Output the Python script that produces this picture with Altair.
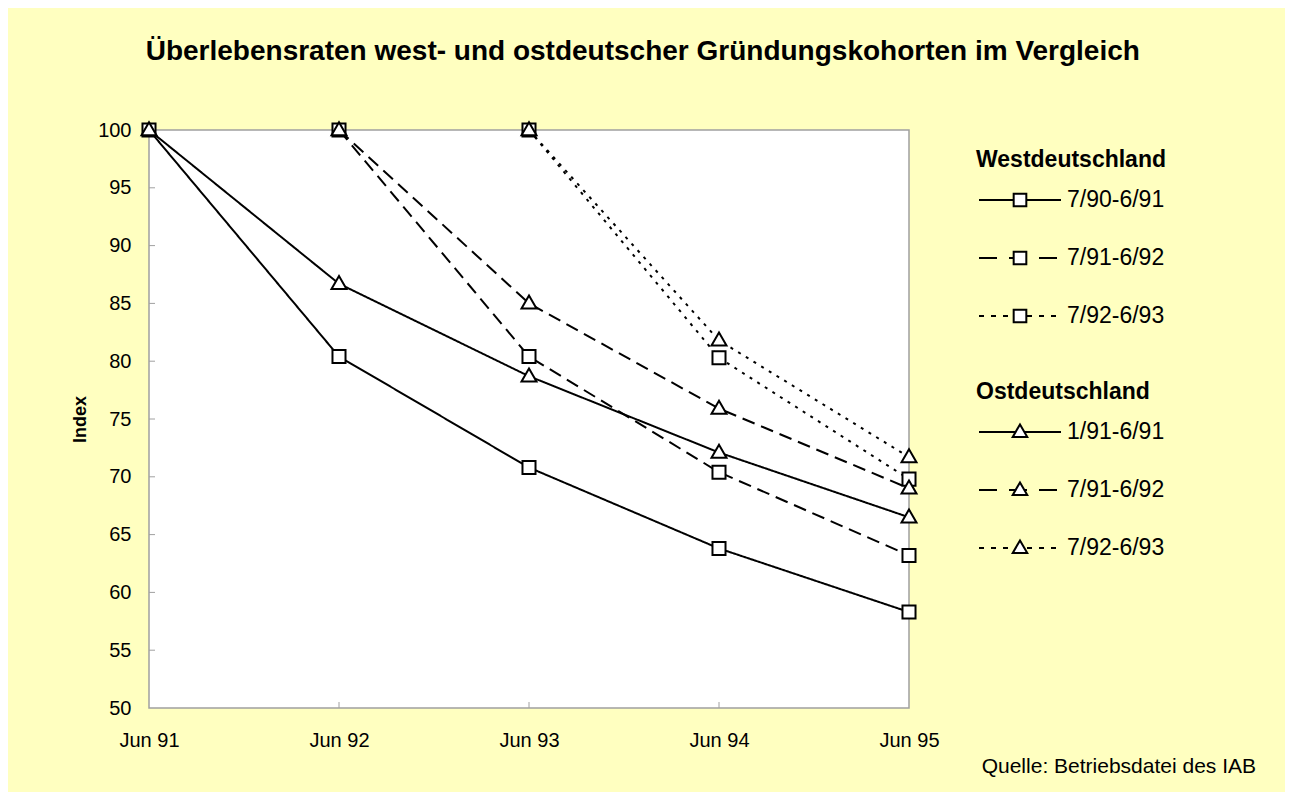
import altair as alt
import pandas as pd

# ---------------- data ----------------
periods = ["Jun 91", "Jun 92", "Jun 93", "Jun 94", "Jun 95"]
y_ticks = [50, 55, 60, 65, 70, 75, 80, 85, 90, 95, 100]
styles = ["solid", "dashed", "dotted"]

west_labels = ["7/90-6/91", "7/91-6/92", "7/92-6/93"]
west_values = [
    [100, 80.4, 70.8, 63.8, 58.3],
    [None, 100, 80.4, 70.4, 63.2],
    [None, None, 100, 80.3, 69.8],
]
east_labels = ["1/91-6/91", "7/91-6/92", "7/92-6/93"]
east_values = [
    [100, 86.7, 78.7, 72.1, 66.5],
    [None, 100, 85.0, 75.9, 69.0],
    [None, None, 100, 81.8, 71.7],
]
group_titles = ["Westdeutschland", "Ostdeutschland"]
title_text = "Überlebensraten west- und ostdeutscher Gründungskohorten im Vergleich"
source_text = "Quelle: Betriebsdatei des IAB"

# ---------------- tables ----------------
rows = []
for region, labels, values in [("West", west_labels, west_values), ("Ost", east_labels, east_values)]:
    for lab, sty, vals in zip(labels, styles, values):
        for p, v in zip(periods, vals):
            if v is not None:
                rows.append({"series": region + " " + lab, "region": region,
                             "style": sty, "period": p, "value": v})
df = pd.DataFrame(rows)

ytick_df = pd.DataFrame({"value": y_ticks[1:-1]})
xtick_df = pd.DataFrame({"period": periods[1:-1]})

leg_rows = []
leg_heads = []
r = 0
for region, head, labels in [("West", group_titles[0], west_labels), ("Ost", group_titles[1], east_labels)]:
    leg_heads.append({"row": r, "text": head})
    r += 1
    for lab, sty in zip(labels, styles):
        leg_rows.append({"row": r, "label": lab, "style": sty, "region": region})
        r += 1
leg_df = pd.DataFrame(leg_rows)
head_df = pd.DataFrame(leg_heads)

# ---------------- main chart ----------------
W, H = 760, 578
x_enc = alt.X("period:O", sort=periods, scale=alt.Scale(type="point", padding=0),
              axis=alt.Axis(title=None, labelAngle=0, ticks=False, domain=False,
                            labelPadding=22, labelFontSize=20, grid=False))
y_scale = alt.Scale(domain=[50, 100], nice=False, zero=False)
y_enc = alt.Y("value:Q", scale=y_scale,
              axis=alt.Axis(title="Index", values=y_ticks, ticks=False, domain=False,
                            labelPadding=18, labelFontSize=20, titleFontSize=18,
                            titleFontWeight="bold", titlePadding=8, grid=False))

triangle = "M0,-1.2L1.15,0.8L-1.15,0.8Z"
dash_scale = alt.Scale(domain=styles, range=[[1, 0], [13, 7], [3, 6]])
shape_scale = alt.Scale(domain=["West", "Ost"], range=["square", triangle])

lines = alt.Chart(df).mark_line(color="black", strokeWidth=2).encode(
    x=x_enc, y=y_enc,
    strokeDash=alt.StrokeDash("style:N", scale=dash_scale, legend=None),
    detail="series:N",
)
points = alt.Chart(df).mark_point(filled=True, fill="white", stroke="black",
                                  strokeWidth=2, size=170, opacity=1).encode(
    x=x_enc, y=y_enc,
    shape=alt.Shape("region:N", scale=shape_scale, legend=None),
)
yticks_m = alt.Chart(ytick_df).mark_rule(color="#a0a0a0", strokeWidth=1).encode(
    y=y_enc, x=alt.value(0), x2=alt.value(6),
)
xticks_m = alt.Chart(xtick_df).mark_rule(color="#a0a0a0", strokeWidth=1).encode(
    x=x_enc, y=alt.value(H), y2=alt.value(H - 6),
)
main = alt.layer(yticks_m, xticks_m, lines, points).properties(width=W, height=H)

# ---------------- legend panel ----------------
leg_scale = alt.Scale(domain=[-0.207, 9.759], reverse=True, nice=False, zero=False)
leg_y = alt.Y("row:Q", scale=leg_scale, axis=None)
leg_dash = alt.Scale(domain=styles, range=[[1, 0], [18, 12], [5, 7]])

leg_lines = alt.Chart(leg_df).mark_rule(color="black", strokeWidth=2).encode(
    x=alt.value(3), x2=alt.value(85), y=leg_y,
    strokeDash=alt.StrokeDash("style:N", scale=leg_dash, legend=None),
)
leg_pts = alt.Chart(leg_df).mark_point(filled=True, fill="white", stroke="black",
                                       strokeWidth=2, size=160, opacity=1).encode(
    x=alt.value(44), y=leg_y,
    shape=alt.Shape("region:N", scale=shape_scale, legend=None),
)
leg_txt = alt.Chart(leg_df).mark_text(align="left", baseline="middle", fontSize=23,
                                      color="black").encode(
    x=alt.value(91), y=leg_y, text="label:N",
)
leg_head = alt.Chart(head_df).mark_text(align="left", baseline="middle", fontSize=23,
                                        fontWeight="bold", color="black", dy=18).encode(
    x=alt.value(0), y=leg_y, text="text:N",
)
legend = alt.layer(leg_lines, leg_pts, leg_txt, leg_head).properties(
    width=280, height=H,
    view=alt.ViewBackground(fill="transparent", stroke="transparent"),
    title=alt.Title(source_text, orient="bottom", anchor="end", fontSize=21,
                    fontWeight="normal", baseline="top", offset=48, color="black"),
)

chart = alt.hconcat(main, legend, spacing=67, bounds="flush").resolve_scale(
    x="independent", y="independent", strokeDash="independent", shape="independent"
).properties(
    title=alt.Title(title_text, fontSize=28, fontWeight="bold", anchor="middle",
                    baseline="alphabetic", offset=29, dx=-21, color="black"),
    background="#FFFFC0",
    padding={"left": 62, "top": 30, "right": 28, "bottom": 14},
).configure(font="Liberation Sans").configure_view(
    fill="white", stroke="#a0a0a0", strokeWidth=1.5
).configure_axis(labelColor="black", titleColor="black")

chart.save("out.html", embed_options={"renderer": "svg", "actions": False})
